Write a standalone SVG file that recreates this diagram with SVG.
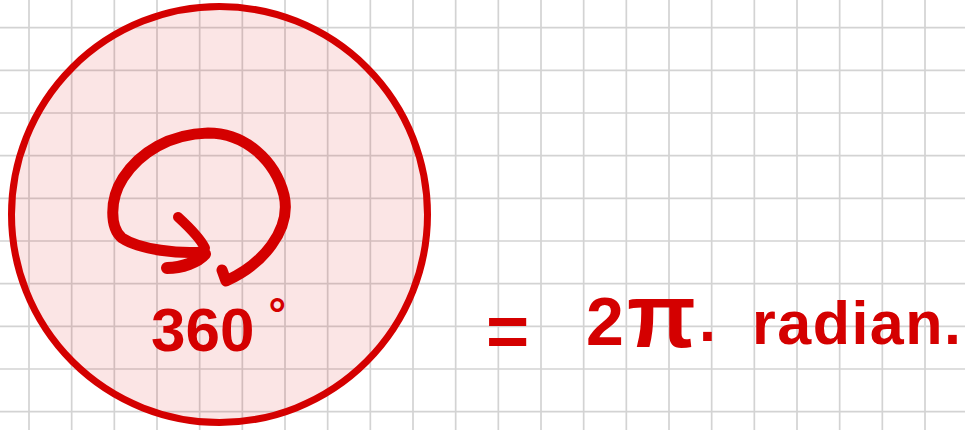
<svg xmlns="http://www.w3.org/2000/svg" width="965" height="430" viewBox="0 0 965 430">
  <style>
    .grid { stroke: #d3d3d3; stroke-width: 1.7; fill: none; }
    .ink { stroke: #d40000; fill: none; stroke-linecap: round; stroke-linejoin: round; }
    .hand { font-family: "Liberation Sans", "DejaVu Sans", sans-serif; font-weight: bold; fill: #d40000; }
  </style>
  <rect x="0" y="0" width="965" height="430" fill="#ffffff"/>
  <g id="grid">
    <path class="grid" d="M29,0V430 M71.67,0V430 M114.33,0V430 M157,0V430 M199.67,0V430 M242.33,0V430 M285,0V430 M327.67,0V430 M370.33,0V430 M413,0V430 M455.67,0V430 M498.33,0V430 M541,0V430 M583.67,0V430 M626.33,0V430 M669,0V430 M711.67,0V430 M754.33,0V430 M797,0V430 M839.67,0V430 M882.33,0V430 M925,0V430"/>
    <path class="grid" d="M0,27.7H965 M0,70.3H965 M0,113H965 M0,155.7H965 M0,198.3H965 M0,241H965 M0,283.7H965 M0,326.3H965 M0,369H965 M0,411.7H965"/>
  </g>
  <g id="circle">
    <circle cx="219.5" cy="214.5" r="208" fill="#d40000" fill-opacity="0.1" stroke="#d40000" stroke-width="7"/>
  </g>
  <g id="rotation-arrow">
    <path class="ink" stroke-width="11" d="M203,252 C180,254 140,250 122,238 C110,228 109,200 123,178 C140,152 170,134 208,133 C245,133 275,160 284,195 C292,230 262,265 226,281 L222,270"/>
    <path class="ink" stroke-width="10" d="M178,217 C190,228 200,238 205,248"/>
    <path class="ink" stroke-width="12" d="M167,268 C182,268 198,262 205,254"/>
  </g>
  <g id="label-360">
    <text class="hand" x="151" y="351" font-size="62">360<tspan dx="14" dy="-22" font-size="44">°</tspan></text>
  </g>
  <g id="equation">
    <text class="hand" font-size="61"><tspan x="486" y="357" font-size="74">=</tspan><tspan x="586" y="345" font-size="68">2</tspan><tspan x="627" y="347" font-size="90">π</tspan><tspan x="699" y="341">.</tspan><tspan x="752" y="344" letter-spacing="1.5">radian.</tspan></text>
  </g>
</svg>
